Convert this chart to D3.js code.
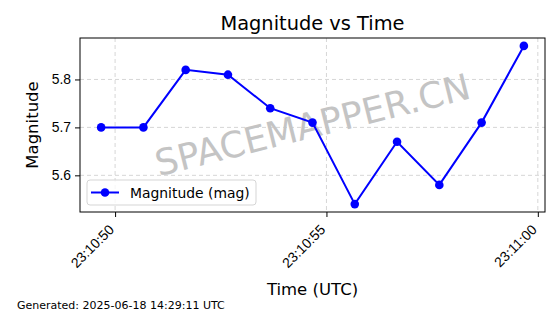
<!DOCTYPE html>
<html>
<head>
<meta charset="utf-8">
<script src="https://cdn.jsdelivr.net/npm/d3@7"></script>
<style>
  body { margin: 0; background: #fff; }
  svg { display: block; font-family: "DejaVu Sans", sans-serif; }
  .grid line { stroke: #cccccc; stroke-dasharray: 4,3; stroke-width: 0.8; }
  .axis path { display: none; }
  .axis line { stroke: #000; }
  .axis text { font-size: 13.9px; fill: #000; }
</style>
</head>
<body>
<div id="chart"></div>
<script>
// magnitude readings, one per second
const times = ["23:10:49.67", "23:10:50.67", "23:10:51.67", "23:10:52.67", "23:10:53.67",
               "23:10:54.67", "23:10:55.67", "23:10:56.67", "23:10:57.67", "23:10:58.67", "23:10:59.67"];
const magnitudes = [5.70, 5.70, 5.82, 5.81, 5.74, 5.71, 5.54, 5.67, 5.58, 5.71, 5.87];
const yTicks = [5.6, 5.7, 5.8];
const seriesLabel = "Magnitude (mag)";
const generatedText = "Generated: 2025-06-18 14:29:11 UTC";

const W = 560, H = 314;
const margin = {top: 38, right: 15, bottom: 102, left: 80};
const width = W - margin.left - margin.right,
      height = H - margin.top - margin.bottom;

const parseTime = s => {
    const [h, m, sec] = s.split(":");
    return new Date(Date.UTC(2025, 5, 18, +h, +m, 0, Math.round(+sec * 1000)));
};
const data = times.map((t, i) => ({t: parseTime(t), v: magnitudes[i]}));

const svg = d3.select("#chart").append("svg")
    .attr("width", W)
    .attr("height", H);

const g = svg.append("g")
    .attr("transform", "translate(" + margin.left + "," + margin.top + ")");

// matplotlib style 5% padding
const tExt = d3.extent(data, d => d.t);
const tPad = (tExt[1] - tExt[0]) * 0.05;
const vExt = d3.extent(data, d => d.v);
const vPad = (vExt[1] - vExt[0]) * 0.05;

const x = d3.scaleUtc()
    .domain([new Date(+tExt[0] - tPad), new Date(+tExt[1] + tPad)])
    .range([0, width]);
const y = d3.scaleLinear()
    .domain([vExt[0] - vPad, vExt[1] + vPad])
    .range([height, 0]);

const xTickVals = x.ticks(d3.utcSecond.every(5));

// grid
g.append("g").attr("class", "grid")
    .selectAll("line.gy").data(yTicks).enter().append("line")
    .attr("x1", 0).attr("x2", width)
    .attr("y1", d => y(d)).attr("y2", d => y(d));
g.append("g").attr("class", "grid")
    .selectAll("line.gx").data(xTickVals).enter().append("line")
    .attr("x1", d => x(d)).attr("x2", d => x(d))
    .attr("y1", 0).attr("y2", height);

// watermark
g.append("text")
    .attr("transform", "translate(" + (width / 2) + "," + (height / 2) + ") rotate(-14)")
    .attr("text-anchor", "middle")
    .attr("dominant-baseline", "central")
    .attr("font-size", 36)
    .attr("fill", "#c4c4c4")
    .text("SPACEMAPPER.CN");

// axes
const xAxis = d3.axisBottom(x).tickValues(xTickVals)
    .tickFormat(d3.utcFormat("%H:%M:%S")).tickSize(5);
const yAxis = d3.axisLeft(y).tickValues(yTicks)
    .tickFormat(d3.format(".1f")).tickSize(5).tickPadding(4);

g.append("g").attr("class", "x-axis axis")
    .attr("transform", "translate(0," + height + ")")
    .call(xAxis)
    .selectAll("text")
    .style("text-anchor", "end")
    .attr("x", 0).attr("y", 0).attr("dy", 0)
    .attr("transform", "translate(-0.7,18.5) rotate(-45)");

g.append("g").attr("class", "y-axis axis")
    .call(yAxis);

// line + markers
const line = d3.line().x(d => x(d.t)).y(d => y(d.v));
g.append("path")
    .datum(data)
    .attr("fill", "none")
    .attr("stroke", "#0000ff")
    .attr("stroke-width", 2)
    .attr("d", line);
g.selectAll("circle.pt").data(data).enter().append("circle")
    .attr("class", "pt")
    .attr("cx", d => x(d.t)).attr("cy", d => y(d.v))
    .attr("r", 4.3)
    .attr("fill", "#0000ff");

// frame
g.append("rect")
    .attr("width", width).attr("height", height)
    .attr("fill", "none").attr("stroke", "#000").attr("stroke-width", 1);

// legend
const leg = g.append("g").attr("transform", "translate(7," + (height - 32) + ")");
leg.append("rect")
    .attr("width", 169).attr("height", 25).attr("rx", 3)
    .attr("fill", "#fff").attr("fill-opacity", 0.8)
    .attr("stroke", "#d5d5d5");
leg.append("line")
    .attr("x1", 4).attr("x2", 32).attr("y1", 12.5).attr("y2", 12.5)
    .attr("stroke", "#0000ff").attr("stroke-width", 2);
leg.append("circle").attr("cx", 18).attr("cy", 12.5).attr("r", 4.3).attr("fill", "#0000ff");
leg.append("text")
    .attr("x", 43).attr("y", 17.5)
    .attr("font-size", 13.9)
    .text(seriesLabel);

// titles
svg.append("text")
    .attr("x", margin.left + width / 2).attr("y", 30)
    .attr("text-anchor", "middle")
    .attr("font-size", 19.4)
    .text("Magnitude vs Time");
svg.append("text")
    .attr("x", margin.left + width / 2).attr("y", 295)
    .attr("text-anchor", "middle")
    .attr("font-size", 16.5)
    .text("Time (UTC)");
svg.append("text")
    .attr("transform", "translate(38," + (margin.top + height / 2) + ") rotate(-90)")
    .attr("text-anchor", "middle")
    .attr("font-size", 16.5)
    .text("Magnitude");
svg.append("text")
    .attr("x", 17).attr("y", 309)
    .attr("font-size", 11)
    .text(generatedText);
</script>
</body>
</html>
